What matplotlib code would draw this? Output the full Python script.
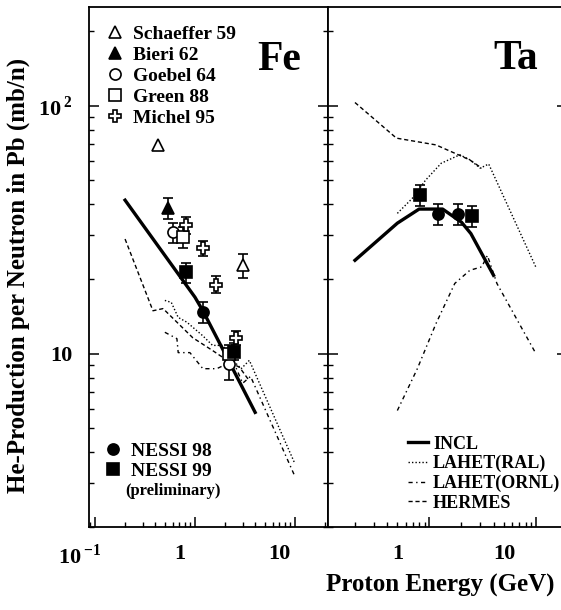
import numpy as np
import matplotlib
matplotlib.use('Agg')
import matplotlib.pyplot as plt
import matplotlib.transforms as mtransforms
from matplotlib.lines import Line2D
from matplotlib.ticker import FixedLocator, FixedFormatter, LogLocator, NullFormatter

plt.rcParams['font.family'] = 'Liberation Serif'
plt.rcParams['font.weight'] = 'bold'
plt.rcParams['mathtext.fontset'] = 'custom'
plt.rcParams['mathtext.rm'] = 'Liberation Serif:bold'
plt.rcParams['mathtext.bf'] = 'Liberation Serif:bold'

# --- Fe: measurements (energy GeV, value mb/n, error) ---
schaeffer_e = [0.43, 3.0]
schaeffer_v = [69.5, 22.7]
schaeffer_err = [0.0, 2.5]

bieri_e = [0.54]
bieri_v = [38.6]
bieri_err = [3.8]

goebel_e = [0.60, 2.2]
goebel_v = [30.9, 9.1]
goebel_err = [2.9, 1.3]

green_e = [0.76, 2.2]
green_v = [29.5, 10.0]
green_err = [2.9, 0.8]

michel_e = [0.81, 1.2, 1.62, 2.6]
michel_v = [33.0, 26.6, 19.0, 11.6]
michel_err = [2.5, 1.8, 1.5, 0.8]

nessi98_fe_e = [1.2]
nessi98_fe_v = [14.7]
nessi98_fe_err = [1.4]

nessi99_fe_e = [0.81, 2.45]
nessi99_fe_v = [21.3, 10.2]
nessi99_fe_err = [2.0, 0.8]

# --- Fe: model curves ---
incl_fe_e = [0.2, 1.0, 1.2, 2.0, 4.0]
incl_fe_v = [41.6, 16.9, 14.9, 10.0, 5.8]

ral_fe_e = [0.5, 0.58, 0.68, 0.83, 1.2, 1.5, 1.9, 2.4, 2.9, 3.5, 10.0]
ral_fe_v = [16.4, 16.1, 14.0, 13.4, 11.8, 10.8, 10.8, 9.4, 8.7, 9.4, 3.6]

ornl_fe_e = [0.5, 0.66, 0.68, 0.89, 1.2, 1.65, 2.1, 2.6, 3.0, 3.6, 10.0]
ornl_fe_v = [12.2, 11.5, 10.1, 10.1, 8.7, 8.7, 9.1, 8.7, 7.6, 8.1, 3.2]

hermes_fe_e = [0.2, 0.38, 0.48, 0.95, 1.5, 2.1, 2.8, 3.4]
hermes_fe_v = [29.0, 14.9, 15.2, 11.6, 10.3, 9.4, 8.8, 7.9]

# --- Ta ---
nessi98_ta_e = [1.21, 1.85]
nessi98_ta_v = [36.5, 36.5]
nessi98_ta_err = [3.6, 3.6]

nessi99_ta_e = [0.81, 2.53]
nessi99_ta_v = [43.6, 35.9]
nessi99_ta_err = [4.3, 3.5]

incl_ta_e = [0.2, 0.5, 0.8, 1.33, 2.0, 2.45, 4.0]
incl_ta_v = [23.8, 33.6, 38.3, 38.3, 33.9, 30.5, 20.7]

ral_ta_e = [0.5, 0.69, 0.92, 1.29, 1.93, 2.4, 3.0, 3.6, 10.0]
ral_ta_v = [36.8, 42.3, 50.1, 58.6, 63.4, 60.5, 56.0, 58.2, 22.3]

ornl_ta_e = [0.5, 0.77, 1.15, 1.73, 2.4, 3.1, 3.5, 4.3, 10.0]
ornl_ta_v = [5.9, 8.7, 13.2, 19.2, 21.7, 22.4, 24.9, 19.2, 10.0]

hermes_ta_e = [0.2, 0.35, 0.49, 1.15, 1.93, 2.4, 3.1]
hermes_ta_v = [103.0, 83.8, 74.0, 69.5, 63.0, 60.4, 56.0]

# line styles for the calculations
INCL = dict(color='black', lw=2.4, ls='-')
RAL = dict(color='black', lw=1.0, ls=(0, (1, 1.5)))
ORNL = dict(color='black', lw=1.0, ls=(0, (3, 2.5, 1, 2.5)))
HERMES = dict(color='black', lw=1.0, ls=(0, (3, 2)))


def points(ax, e, v, err, **kw):
    e, v, err = np.asarray(e), np.asarray(v), np.asarray(err)
    has = err > 0
    ax.errorbar(e[has], v[has], yerr=err[has], fmt='none', ecolor='black',
                elinewidth=1.2, capsize=3.5, capthick=1.2, zorder=3)
    ax.plot(e, v, ls='none', mec='black', mew=1.2, zorder=4, **kw)


def style(ax, xlim, xticks, xlabels, dx):
    ax.set_xscale('log')
    ax.set_yscale('log')
    ax.set_xlim(*xlim)
    ax.set_ylim(2, 250)
    ax.xaxis.set_major_locator(FixedLocator(xticks))
    ax.xaxis.set_major_formatter(FixedFormatter(xlabels))
    ax.xaxis.set_minor_locator(LogLocator(base=10, subs=np.arange(2, 10), numticks=20))
    ax.xaxis.set_minor_formatter(NullFormatter())
    ax.yaxis.set_minor_locator(LogLocator(base=10, subs=np.arange(2, 10), numticks=20))
    ax.yaxis.set_minor_formatter(NullFormatter())
    ax.tick_params(which='both', direction='in', left=True, right=True, top=False)
    ax.tick_params(which='major', length=7, width=1.1)
    ax.tick_params(which='minor', length=3.5, width=1.0)
    ax.tick_params(axis='x', labelsize=16, pad=12)
    for s in ax.spines.values():
        s.set_linewidth(1.3)
    shift = mtransforms.ScaledTranslation(dx / 72, 0, ax.figure.dpi_scale_trans)
    for lab in ax.get_xticklabels():
        lab.set_transform(lab.get_transform() + shift)


fig = plt.figure(figsize=(5.61, 6.10), dpi=100)
ax_fe = fig.add_axes([0.1586, 0.136, 0.426, 0.8525])
ax_ta = fig.add_axes([0.5847, 0.136, 0.4253, 0.8525])

# Fe panel
ax_fe.plot(incl_fe_e, incl_fe_v, **INCL)
ax_fe.plot(ral_fe_e, ral_fe_v, **RAL)
ax_fe.plot(ornl_fe_e, ornl_fe_v, **ORNL)
ax_fe.plot(hermes_fe_e, hermes_fe_v, **HERMES)

points(ax_fe, schaeffer_e, schaeffer_v, schaeffer_err, marker='^', ms=8, mfc='white')
points(ax_fe, bieri_e, bieri_v, bieri_err, marker='^', ms=8, mfc='black')
points(ax_fe, goebel_e, goebel_v, goebel_err, marker='o', ms=8, mfc='white')
points(ax_fe, green_e, green_v, green_err, marker='s', ms=8, mfc='white')
points(ax_fe, michel_e, michel_v, michel_err, marker='P', ms=9, mfc='white')
points(ax_fe, nessi98_fe_e, nessi98_fe_v, nessi98_fe_err, marker='o', ms=8, mfc='black')
points(ax_fe, nessi99_fe_e, nessi99_fe_v, nessi99_fe_err, marker='s', ms=8, mfc='black')

style(ax_fe, (0.0871, 21.4), [0.1, 1, 10],
      [r'$\mathbf{10}^{\,\mathbf{-1}}$', '1', '10'], -11)
ax_fe.yaxis.set_major_locator(FixedLocator([10, 100]))
ax_fe.yaxis.set_major_formatter(FixedFormatter(['10', r'$\mathbf{10}^{\,\mathbf{2}}$']))
ax_fe.tick_params(axis='y', labelsize=16, pad=12)

# Ta panel
ax_ta.plot(incl_ta_e, incl_ta_v, **INCL)
ax_ta.plot(ral_ta_e, ral_ta_v, **RAL)
ax_ta.plot(ornl_ta_e, ornl_ta_v, **ORNL)
ax_ta.plot(hermes_ta_e, hermes_ta_v, **HERMES)
points(ax_ta, nessi98_ta_e, nessi98_ta_v, nessi98_ta_err, marker='o', ms=8, mfc='black')
points(ax_ta, nessi99_ta_e, nessi99_ta_v, nessi99_ta_err, marker='s', ms=8, mfc='black')

style(ax_ta, (0.1117, 19.4), [1, 10], ['1', '10'], -23)
ax_ta.yaxis.set_major_locator(FixedLocator([10, 100]))
ax_ta.yaxis.set_major_formatter(NullFormatter())

# legends
def mk(marker, fc, ms=8):
    return Line2D([], [], ls='none', marker=marker, ms=ms, mfc=fc, mec='black', mew=1.2)

fig.legend([mk('^', 'white'), mk('^', 'black'), mk('o', 'white'),
            mk('s', 'white'), mk('P', 'white', 9)],
           ['Schaeffer 59', 'Bieri 62', 'Goebel 64', 'Green 88', 'Michel 95'],
           loc='upper left', bbox_to_anchor=(0.187, 0.959), frameon=False,
           fontsize=14, handlelength=1.0, handletextpad=0.45,
           labelspacing=0.18, borderpad=0, borderaxespad=0)

fig.legend([mk('o', 'black'), mk('s', 'black')], ['NESSI 98', 'NESSI 99'],
           loc='upper left', bbox_to_anchor=(0.184, 0.275), frameon=False,
           fontsize=14, handlelength=1.0, handletextpad=0.45,
           labelspacing=0.12, borderpad=0, borderaxespad=0)
fig.text(125 / 561, 1 - 491 / 610, '(preliminary)', fontsize=12, va='center')

fig.legend([Line2D([], [], **INCL), Line2D([], [], **RAL),
            Line2D([], [], **ORNL), Line2D([], [], **HERMES)],
           ['INCL', 'LAHET(RAL)', 'LAHET(ORNL)', 'HERMES'],
           loc='upper left', bbox_to_anchor=(0.727, 0.286), frameon=False,
           fontsize=13, handlelength=1.1, handletextpad=0.3,
           labelspacing=0.14, borderpad=0, borderaxespad=0)

fig.text(279 / 561, 1 - 60 / 610, 'Fe', fontsize=30, ha='center', va='center')
fig.text(516 / 561, 1 - 59 / 610, 'Ta', fontsize=30, ha='center', va='center')

fig.text(18 / 561, 1 - 275 / 610, 'He-Production per Neutron in Pb (mb/n)',
         rotation=90, fontsize=18, ha='center', va='center')
fig.text(555 / 561, 1 - 585 / 610, 'Proton Energy (GeV)', fontsize=18,
         ha='right', va='center')

fig.savefig('out.png', dpi=100)
